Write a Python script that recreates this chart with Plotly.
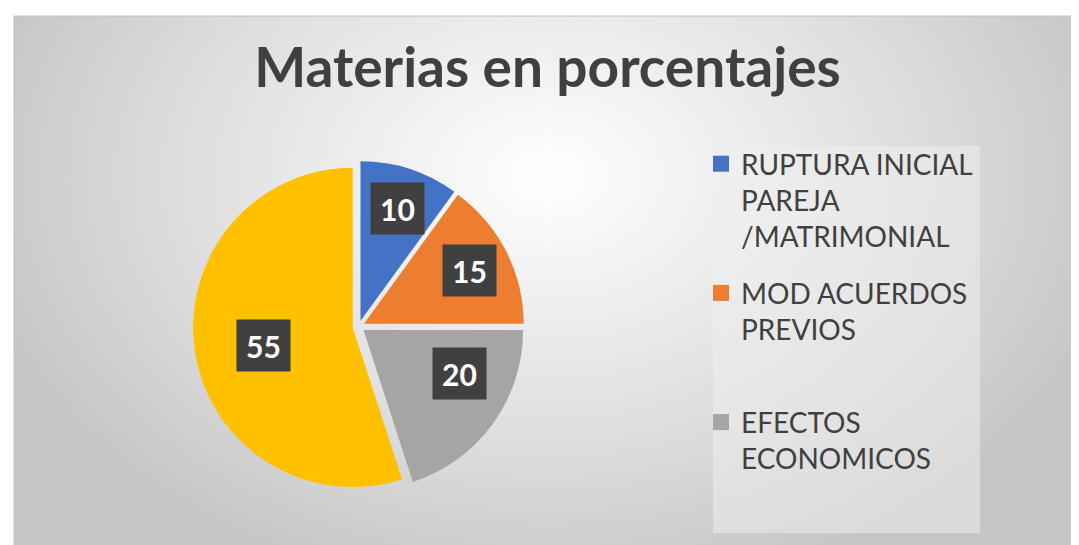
import math

import plotly.graph_objects as go

# slice data (clockwise from 12 o'clock)
slice_labels = ["RUPTURA INICIAL PAREJA /MATRIMONIAL", "MOD ACUERDOS PREVIOS", "EFECTOS ECONOMICOS", "OTROS"]
slice_values = [10, 15, 20, 55]
slice_colors = ["#4472C4", "#ED7D31", "#A5A5A5", "#FFC000"]

# legend shows only the first three entries, wrapped as in the original
legend_text = [
    "RUPTURA INICIAL<br>PAREJA<br>/MATRIMONIAL",
    "MOD ACUERDOS<br>PREVIOS<br> ",
    "EFECTOS<br>ECONOMICOS",
]

W, H = 1079, 545
FONT = "Lato, 'Open Sans', sans-serif"
TEXT_COLOR = "#404040"

pie_dom_x = [0.1715, 0.4785]
pie_dom_y = [0.111, 0.720]
pull = 0.0375

fig = go.Figure()

# soft radial background, like the Excel chart area
fig.add_trace(
    go.Scatter(
        x=[-0.05, 1.05, 1.05, -0.05, -0.05],
        y=[-0.1, -0.1, 1.5, 1.5, -0.1],
        fill="toself",
        mode="lines",
        line=dict(width=0),
        fillgradient=dict(
            type="radial",
            colorscale=[[0, "#ffffff"], [0.3, "#efefef"], [0.65, "#dcdcdc"], [1, "#c6c6c6"]],
        ),
        hoverinfo="skip",
        showlegend=False,
    )
)

for i, (name, color) in enumerate(zip(legend_text, slice_colors[:3])):
    fig.add_trace(
        go.Scatter(
            x=[None],
            y=[None],
            mode="markers",
            name=name,
            legendgroup=f"g{i}",
            marker=dict(symbol="square", size=16, color=color),
        )
    )

fig.add_trace(
    go.Pie(
        labels=slice_labels,
        values=slice_values,
        sort=False,
        direction="clockwise",
        rotation=0,
        pull=[pull] * len(slice_values),
        marker=dict(colors=slice_colors, line=dict(width=0)),
        textinfo="none",
        domain=dict(x=pie_dom_x, y=pie_dom_y),
        showlegend=False,
    )
)

# data labels in dark boxes, placed from the slice angles
cx = sum(pie_dom_x) / 2
cy = sum(pie_dom_y) / 2
radius_px = min((pie_dom_x[1] - pie_dom_x[0]) * W, (pie_dom_y[1] - pie_dom_y[0]) * H) / 2 / (1 + pull)
label_r = radius_px * (0.74 + pull)
total = sum(slice_values)
cum = 0
annotations = []
for v in slice_values:
    mid = (cum + v / 2) / total * 2 * math.pi
    cum += v
    annotations.append(
        dict(
            x=cx + label_r * math.sin(mid) / W,
            y=cy + label_r * math.cos(mid) / H,
            xref="paper",
            yref="paper",
            text=f"<b>{v}</b>",
            showarrow=False,
            font=dict(family=FONT, size=30, color="white"),
            bgcolor="#404040",
            width=47,
            height=45,
            borderpad=3,
        )
    )

fig.update_layout(
    width=W,
    height=H,
    margin=dict(l=0, r=0, t=0, b=0),
    paper_bgcolor="white",
    plot_bgcolor="rgba(0,0,0,0)",
    xaxis=dict(visible=False, range=[0, 1], domain=[6 / W, 1073 / W], fixedrange=True),
    yaxis=dict(visible=False, range=[0, 1], domain=[1 - 541 / H, 1 - 8 / H], fixedrange=True),
    title=dict(
        text="<b>Materias en porcentajes</b>",
        x=0.5,
        xanchor="center",
        y=1 - 60 / H,
        yanchor="middle",
        font=dict(family=FONT, size=55, color=TEXT_COLOR),
    ),
    legend=dict(
        x=693 / W,
        y=1 - 131 / H,
        xanchor="left",
        yanchor="top",
        bgcolor="rgba(0,0,0,0)",
        font=dict(family=FONT, size=28, color=TEXT_COLOR),
        valign="top",
        tracegroupgap=17,
        itemwidth=30,
    ),
    annotations=annotations,
    shapes=[
        dict(
            type="rect",
            xref="paper",
            yref="paper",
            x0=705 / W,
            x1=972 / W,
            y0=1 - 525 / H,
            y1=1 - 138 / H,
            fillcolor="rgba(240,240,240,0.5)",
            line=dict(width=0),
            layer="above",
        ),
        dict(
            type="rect",
            xref="paper",
            yref="paper",
            x0=6 / W,
            x1=1073 / W,
            y0=1 - 541 / H,
            y1=1 - 8 / H,
            line=dict(color="#bfbfbf", width=1),
        ),
    ],
)

fig.write_html("out.html")
